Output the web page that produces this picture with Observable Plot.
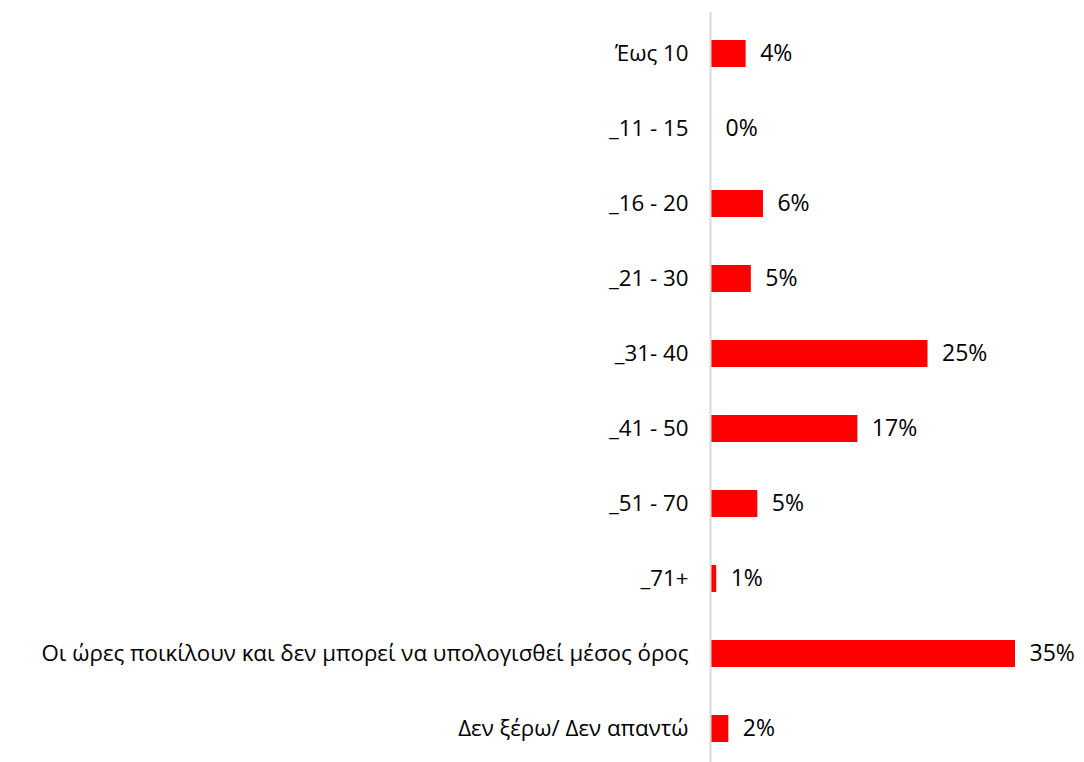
<!DOCTYPE html>
<html>
<head>
<meta charset="utf-8">
<script src="https://cdn.jsdelivr.net/npm/d3@7"></script>
<script src="https://cdn.jsdelivr.net/npm/@observablehq/plot@0.6"></script>
<style>
  html, body { margin: 0; padding: 0; background: #fff; }
  #chart { width: 1084px; height: 762px; }
</style>
</head>
<body>
<div id="chart"></div>
<script>
const categories = [
  "Έως 10",
  "_11 - 15",
  "_16 - 20",
  "_21 - 30",
  "_31- 40",
  "_41 - 50",
  "_51 - 70",
  "_71+",
  "Οι ώρες ποικίλουν και δεν μπορεί να υπολογισθεί μέσος όρος",
  "Δεν ξέρω/ Δεν απαντώ"
];
const values = [4.0, 0.0, 6.0, 4.6, 25.0, 16.9, 5.35, 0.6, 35.1, 2.0];
const valueLabels = ["4%", "0%", "6%", "5%", "25%", "17%", "5%", "1%", "35%", "2%"];

const data = categories.map((c, i) => ({category: c, value: values[i], label: valueLabels[i]}));

const chart = Plot.plot({
  width: 1084,
  height: 762,
  marginLeft: 711,
  marginRight: 0,
  marginTop: 12,
  marginBottom: 0,
  style: {fontFamily: "Open Sans", fontSize: "22.3px", color: "#000", background: "#fff"},
  x: {domain: [0, 43.07], axis: null},
  y: {domain: categories, range: [14.2, 768.6], paddingInner: 0.642, paddingOuter: 0.321, label: null},
  marks: [
    Plot.barX(data, {x: "value", y: "category", fill: "#ff0000"}),
    Plot.ruleX([0], {stroke: "#d9d9d9", strokeWidth: 2, dx: -1}),
    Plot.text(data, {x: "value", y: "category", text: "label", textAnchor: "start", dx: 14, fill: "#000", fontSize: 23}),
    Plot.axisY({tickSize: 0, tickPadding: 23, fontSize: 22.3, fill: "#000", label: null})
  ]
});
document.getElementById("chart").appendChild(chart);
</script>
</body>
</html>
